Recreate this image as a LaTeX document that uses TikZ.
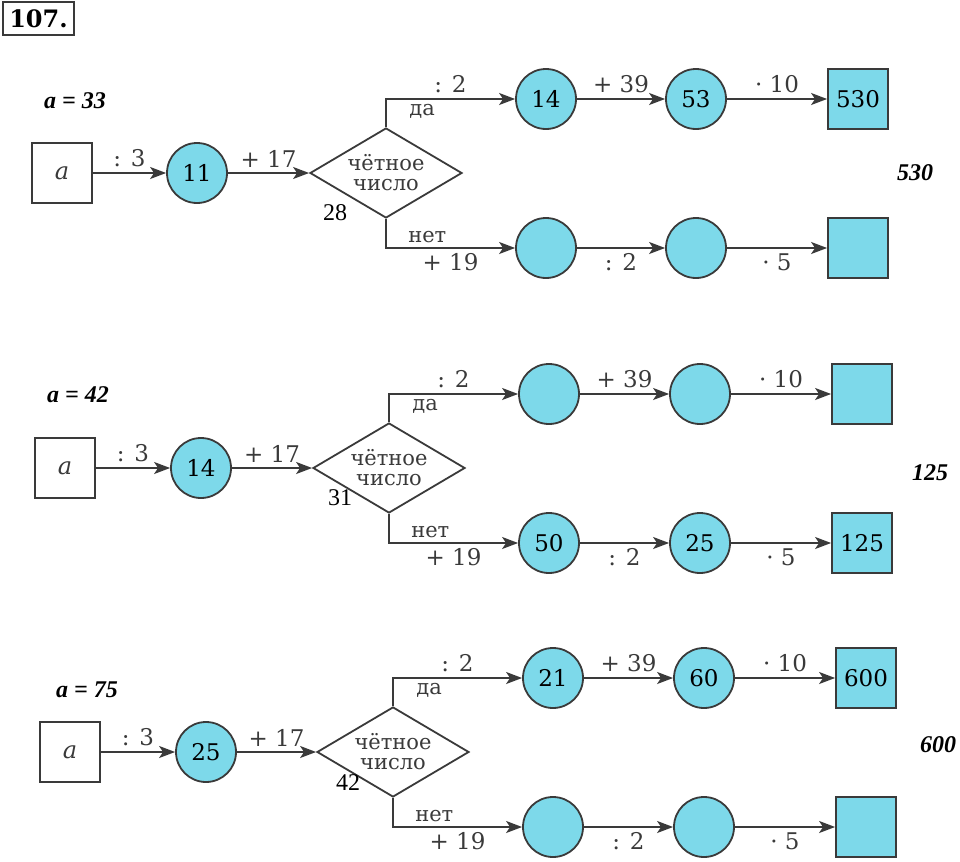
\documentclass[tikz,border=0pt]{standalone}
\usepackage{fontspec}
\setmainfont{DejaVu Serif}
\newfontfamily\notefont{Liberation Serif}
\usetikzlibrary{arrows.meta,positioning,shapes.geometric}
\definecolor{boxfill}{HTML}{7DD9EA}
\definecolor{ink}{HTML}{3A3A3A}
\tikzset{
	->, % every connector is directed
	>={Stealth[length=8pt,width=6pt,inset=2pt]}, % filled arrow heads
	x=0.5pt, y=-0.5pt,
	value/.style={circle, draw, fill=boxfill, minimum size=30pt, inner sep=0pt, text=black, font=\fontsize{11.5}{12}\selectfont},
	result/.style={rectangle, draw, fill=boxfill, minimum size=30pt, inner sep=0pt, text=black, font=\fontsize{11.5}{12}\selectfont},
	start/.style={rectangle, draw, fill=white, minimum size=30pt, inner sep=0pt, font=\itshape\fontsize{12}{14}\selectfont},
	test/.style={diamond, draw, fill=white, aspect=1.69, minimum width=76pt, minimum height=45pt, inner sep=0pt, align=center, font=\fontsize{10.5}{10}\selectfont},
	op/.style={font=\fontsize{11.5}{12}\selectfont, inner sep=2.5pt},
	word/.style={font=\fontsize{10.5}{12}\selectfont, inner sep=2pt},
	note/.style={text=black, font=\notefont\bfseries\itshape\fontsize{12}{14}\selectfont},
	check/.style={text=black, font=\notefont\fontsize{12}{14}\selectfont},
}

\begin{document}
\begin{tikzpicture}[line width=0.9pt, color=ink]
	\useasboundingbox (0,0) rectangle (960,862);
	\node[draw, text=black, line width=1.2pt, minimum width=35.5pt, minimum height=16.5pt, inner sep=0pt, font=\bfseries\fontsize{12}{14}\selectfont] (num) at (38.5,18.5) {107.};

	% a = 33
	\node[note] (val1) at (75,101) {a = 33};
	\node[start] (a1) at (62,173) {a};
	\node[value] (c1) at (197,173) {11};
	\node[test] (d1) at (386,173) {чётное\\число};
	\node[value] (ya1) at (546,99) {14};
	\node[value] (yb1) at (696,99) {53};
	\node[result] (ys1) at (858,99) {530};
	\node[value] (na1) at (546,248) {};
	\node[value] (nb1) at (696,248) {};
	\node[result] (ns1) at (858,248) {};
	\node[check] (sum1) at (335,213) {28};
	\node[note] (ans1) at (915,173) {530};

	\draw (a1) -- node[op, above] {: 3} (c1);
	\draw (c1) -- node[op, above] {+ 17} (d1);
	\draw (d1.north) |- node[op, pos=0.75, above] {: 2} node[word, pos=0.64, below] {да} (ya1);
	\draw (ya1) -- node[op, above] {+ 39} (yb1);
	\draw (yb1) -- node[op, above] {· 10} (ys1);
	\draw (d1.south) |- node[word, pos=0.66, above] {нет} node[op, pos=0.75, below] {+ 19} (na1);
	\draw (na1) -- node[op, below] {: 2} (nb1);
	\draw (nb1) -- node[op, below] {· 5} (ns1);

	% a = 42
	\node[note] (val2) at (78,395) {a = 42};
	\node[start] (a2) at (65,468) {a};
	\node[value] (c2) at (201,468) {14};
	\node[test] (d2) at (389,468) {чётное\\число};
	\node[value] (ya2) at (549,394) {};
	\node[value] (yb2) at (700,394) {};
	\node[result] (ys2) at (862,394) {};
	\node[value] (na2) at (549,543) {50};
	\node[value] (nb2) at (700,543) {25};
	\node[result] (ns2) at (862,543) {125};
	\node[check] (sum2) at (340,498) {31};
	\node[note] (ans2) at (930,473) {125};

	\draw (a2) -- node[op, above] {: 3} (c2);
	\draw (c2) -- node[op, above] {+ 17} (d2);
	\draw (d2.north) |- node[op, pos=0.75, above] {: 2} node[word, pos=0.64, below] {да} (ya2);
	\draw (ya2) -- node[op, above] {+ 39} (yb2);
	\draw (yb2) -- node[op, above] {· 10} (ys2);
	\draw (d2.south) |- node[word, pos=0.66, above] {нет} node[op, pos=0.75, below] {+ 19} (na2);
	\draw (na2) -- node[op, below] {: 2} (nb2);
	\draw (nb2) -- node[op, below] {· 5} (ns2);

	% a = 75
	\node[note] (val3) at (87,690) {a = 75};
	\node[start] (a3) at (70,752) {a};
	\node[value] (c3) at (206,752) {25};
	\node[test] (d3) at (393,752) {чётное\\число};
	\node[value] (ya3) at (553,678) {21};
	\node[value] (yb3) at (704,678) {60};
	\node[result] (ys3) at (866,678) {600};
	\node[value] (na3) at (553,827) {};
	\node[value] (nb3) at (704,827) {};
	\node[result] (ns3) at (866,827) {};
	\node[check] (sum3) at (348,783) {42};
	\node[note] (ans3) at (938,745) {600};

	\draw (a3) -- node[op, above] {: 3} (c3);
	\draw (c3) -- node[op, above] {+ 17} (d3);
	\draw (d3.north) |- node[op, pos=0.75, above] {: 2} node[word, pos=0.64, below] {да} (ya3);
	\draw (ya3) -- node[op, above] {+ 39} (yb3);
	\draw (yb3) -- node[op, above] {· 10} (ys3);
	\draw (d3.south) |- node[word, pos=0.66, above] {нет} node[op, pos=0.75, below] {+ 19} (na3);
	\draw (na3) -- node[op, below] {: 2} (nb3);
	\draw (nb3) -- node[op, below] {· 5} (ns3);
\end{tikzpicture}
\end{document}
